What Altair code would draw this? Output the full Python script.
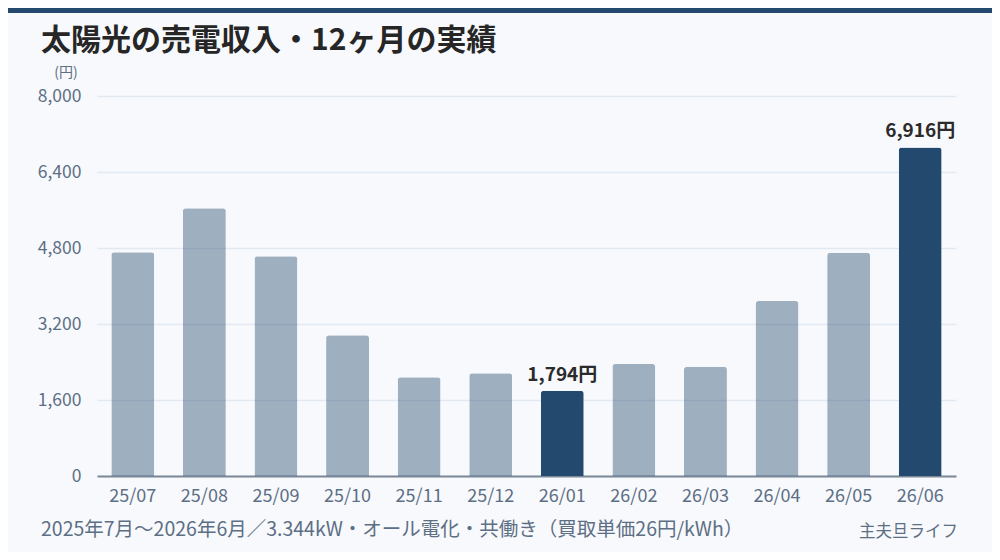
import altair as alt
import pandas as pd

months = ["25/07", "25/08", "25/09", "25/10", "25/11", "25/12",
          "26/01", "26/02", "26/03", "26/04", "26/05", "26/06"]
income = [4709, 5636, 4625, 2962, 2077, 2161, 1794, 2358, 2302, 3684, 4702, 6916]
highlight = ["26/01", "26/06"]
y_ticks = [0, 1600, 3200, 4800, 6400, 8000]

title_text = "太陽光の売電収入・12ヶ月の実績"
unit_text = "(円)"
note_text = "2025年7月〜2026年6月／3.344kW・オール電化・共働き（買取単価26円/kWh）"
credit_text = "主夫旦ライフ"

FONT = "Noto Sans CJK JP"
NAVY = "#234a6e"
GRAY = "#5d6f85"

df = pd.DataFrame({"month": months, "income": income})
df["kind"] = ["hl" if m in highlight else "normal" for m in months]
df["label"] = [f"{v:,}円" for v in income]

x_enc = alt.X("month:N", sort=months, title=None,
              scale=alt.Scale(paddingInner=0.4, paddingOuter=0.2),
              axis=alt.Axis(labelAngle=0, labelFontSize=18, labelColor=GRAY,
                            labelPadding=11, ticks=False, domainColor="#7b8898",
                            domainWidth=2, grid=False))
y_enc = alt.Y("income:Q", title=None,
              scale=alt.Scale(domain=[0, 8000], nice=False),
              axis=alt.Axis(values=y_ticks, format=",d", labelFontSize=17.5,
                            labelColor=GRAY, labelPadding=16, ticks=False,
                            domain=False, gridColor="#e3e9f0", gridWidth=1.5))

bars = alt.Chart(df).mark_bar(cornerRadiusTopLeft=3, cornerRadiusTopRight=3).encode(
    x=x_enc,
    y=y_enc,
    color=alt.Color("kind:N", scale=alt.Scale(domain=["normal", "hl"], range=[NAVY, NAVY]), legend=None),
    opacity=alt.Opacity("kind:N", scale=alt.Scale(domain=["normal", "hl"], range=[0.42, 1.0]), legend=None),
)

labels = alt.Chart(df).transform_filter(
    alt.datum.kind == "hl"
).mark_text(font=FONT, fontSize=19, fontWeight="bold", color="#2b2b2b",
            baseline="alphabetic", dy=-10).encode(
    x=alt.X("month:N", sort=months),
    y="income:Q",
    text="label:N",
)


def note(text, x, y, size, color, weight="normal", align="left"):
    return alt.Chart(pd.DataFrame({"t": [text]})).mark_text(
        font=FONT, fontSize=size, color=color, fontWeight=weight,
        align=align, baseline="middle"
    ).encode(x=alt.value(x), y=alt.value(y), text="t:N")


top_bar = alt.Chart(pd.DataFrame({"t": [0]})).mark_rule(color=NAVY, strokeWidth=5).encode(
    x=alt.value(-89), x2=alt.value(895), y=alt.value(-85.5)
)

chart = alt.layer(
    top_bar,
    bars,
    labels,
    note(title_text, -56, -55, 30, "#262626", weight="bold"),
    note(unit_text, -31, -23, 14, GRAY, align="center"),
    note(note_text, -56, 434, 19.5, GRAY),
    note(credit_text, 861, 436, 16.5, GRAY, align="right"),
).properties(
    width=859,
    height=380,
    background="#f7f9fc",
    padding={"left": 89, "top": 88, "right": 36, "bottom": 76},
    autosize=alt.AutoSizeParams(type="none"),
).configure_view(
    stroke=None
).configure_axis(
    labelFont=FONT
)

chart.save("out.html", embed_options={"renderer": "svg", "actions": False})
